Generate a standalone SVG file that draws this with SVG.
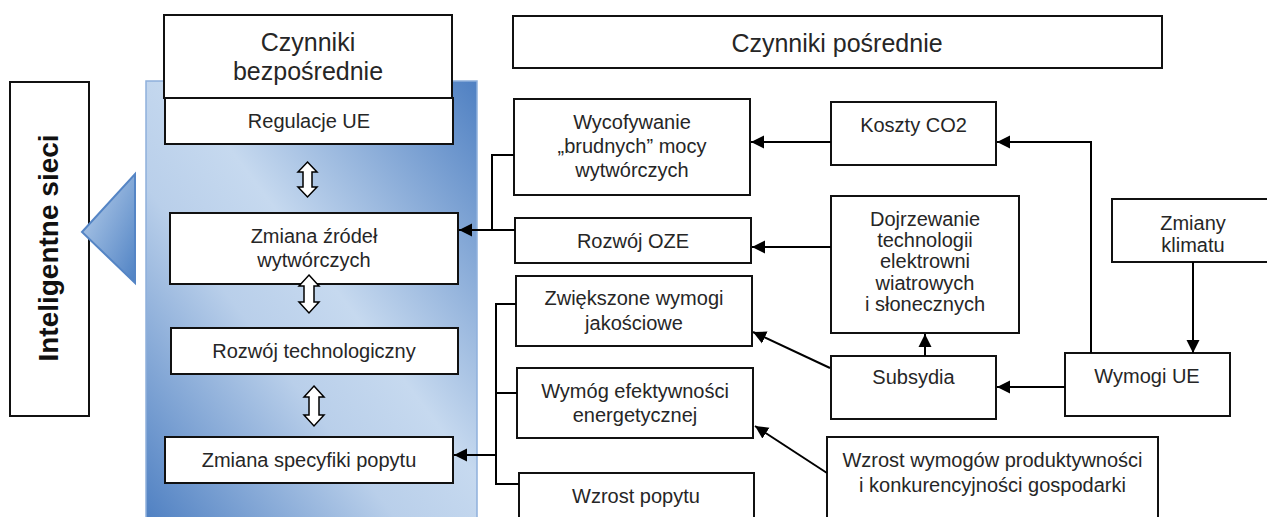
<svg xmlns="http://www.w3.org/2000/svg" width="1267" height="517" viewBox="0 0 1267 517">
  <defs>
    <linearGradient id="panelGrad" x1="1" y1="0" x2="0" y2="1">
      <stop offset="0" stop-color="#4f80c2"/>
      <stop offset="0.45" stop-color="#c6d9ef"/>
      <stop offset="0.62" stop-color="#b9cfea"/>
      <stop offset="1" stop-color="#4f80c2"/>
    </linearGradient>
    <linearGradient id="triGrad" x1="0" y1="0" x2="1" y2="1">
      <stop offset="0" stop-color="#bcd2ec"/>
      <stop offset="1" stop-color="#4f82c4"/>
    </linearGradient>
    <marker id="ah" viewBox="0 0 14 14" refX="14" refY="7" markerWidth="13" markerHeight="14" markerUnits="userSpaceOnUse" orient="auto">
      <path d="M0,0 L14,7 L0,14 z" fill="#000"/>
    </marker>
    <style>
      .box { fill: #fff; stroke: #111; stroke-width: 2; }
      .t { font-family: "Liberation Sans", Arial, sans-serif; font-size: 20px; fill: #262626; text-anchor: middle; }
      .h { font-size: 25px; }
      .b { font-family: "Liberation Sans", Arial, sans-serif; font-size: 28px; font-weight: bold; fill: #111; text-anchor: middle; }
      .c { fill: none; stroke: #000; stroke-width: 2; }
      .ca { fill: none; stroke: #000; stroke-width: 2; marker-end: url(#ah); }
      .dbl { fill: #fff; stroke: #000; stroke-width: 1.5; stroke-linejoin: miter; }
    </style>
  </defs>

  <!-- blue panel -->
  <rect id="panel" x="146" y="81" width="331" height="440" fill="url(#panelGrad)" stroke="#8fb0dc" stroke-width="1.5"/>

  <g id="node-inteligentne">
    <rect class="box" x="10" y="82" width="79" height="334"/>
    <text class="b" transform="translate(58,248) rotate(-90)">Inteligentne sieci</text>
  </g>
  <g id="node-triangle">
    <polygon points="82,232 135,174 135,283" fill="url(#triGrad)" stroke="#5585c5" stroke-width="2"/>
  </g>

  <g id="node-bezposrednie">
    <rect class="box" x="164" y="15" width="288" height="83"/>
    <text class="t h" x="308" y="51">Czynniki</text>
    <text class="t h" x="308" y="80">bezpośrednie</text>
  </g>
  <g id="node-regulacje">
    <rect class="box" x="165" y="98" width="288" height="46"/>
    <text class="t" x="309" y="128">Regulacje UE</text>
  </g>
  <g id="node-zmiana-zrodel">
    <rect class="box" x="170" y="213" width="288" height="71"/>
    <text class="t" x="314" y="243">Zmiana źródeł</text>
    <text class="t" x="314" y="267">wytwórczych</text>
  </g>
  <g id="node-rozwoj-tech">
    <rect class="box" x="171" y="328" width="287" height="46"/>
    <text class="t" x="314" y="358">Rozwój technologiczny</text>
  </g>
  <g id="node-zmiana-popytu">
    <rect class="box" x="165" y="437" width="288" height="46"/>
    <text class="t" x="309" y="467">Zmiana specyfiki popytu</text>
  </g>

  <!-- hollow double arrows -->
  <g id="double-arrows">
    <path class="dbl" d="M307.5,162 L317,172 L312,172 L312,187 L317,187 L307.5,197 L298,187 L303,187 L303,172 L298,172 Z"/>
    <path class="dbl" d="M309,275 L319,286 L314,286 L314,302 L319,302 L309,313 L299,302 L304,302 L304,286 L299,286 Z"/>
    <path class="dbl" d="M314,386 L324,397 L319,397 L319,415 L324,415 L314,426 L304,415 L309,415 L309,397 L304,397 Z"/>
  </g>

  <g id="node-posrednie">
    <rect class="box" x="513" y="16" width="649" height="52"/>
    <text class="t h" x="837" y="52">Czynniki pośrednie</text>
  </g>
  <g id="node-wycofywanie">
    <rect class="box" x="514" y="99" width="236" height="96"/>
    <text class="t" x="632" y="129">Wycofywanie</text>
    <text class="t" x="632" y="153">„brudnych” mocy</text>
    <text class="t" x="632" y="177">wytwórczych</text>
  </g>
  <g id="node-rozwoj-oze">
    <rect class="box" x="515" y="218" width="236" height="45"/>
    <text class="t" x="633" y="248">Rozwój OZE</text>
  </g>
  <g id="node-zwiekszone">
    <rect class="box" x="516" y="276" width="236" height="70"/>
    <text class="t" x="634" y="305">Zwiększone wymogi</text>
    <text class="t" x="634" y="330">jakościowe</text>
  </g>
  <g id="node-wymog-efekt">
    <rect class="box" x="517" y="368" width="236" height="70"/>
    <text class="t" x="635" y="398">Wymóg efektywności</text>
    <text class="t" x="635" y="422">energetycznej</text>
  </g>
  <g id="node-wzrost-popytu">
    <rect class="box" x="519" y="473" width="235" height="60"/>
    <text class="t" x="636" y="503">Wzrost popytu</text>
  </g>
  <g id="node-koszty">
    <rect class="box" x="831" y="102" width="165" height="63"/>
    <text class="t" x="913.5" y="132">Koszty CO2</text>
  </g>
  <g id="node-dojrzewanie">
    <rect class="box" x="831" y="196" width="188" height="137"/>
    <text class="t" x="925" y="226">Dojrzewanie</text>
    <text class="t" x="925" y="247">technologii</text>
    <text class="t" x="925" y="268">elektrowni</text>
    <text class="t" x="925" y="290">wiatrowych</text>
    <text class="t" x="925" y="311">i słonecznych</text>
  </g>
  <g id="node-zmiany-klimatu">
    <rect class="box" x="1112" y="199" width="165" height="63"/>
    <text class="t" x="1193" y="230">Zmiany</text>
    <text class="t" x="1193" y="252">klimatu</text>
  </g>
  <g id="node-wymogi-ue">
    <rect class="box" x="1065" y="353" width="165" height="63"/>
    <text class="t" x="1147" y="383">Wymogi UE</text>
  </g>
  <g id="node-subsydia">
    <rect class="box" x="831" y="356" width="165" height="63"/>
    <text class="t" x="913.5" y="384">Subsydia</text>
  </g>
  <g id="node-wzrost-wymogow">
    <rect class="box" x="827" y="437" width="331" height="100"/>
    <text class="t" x="992.5" y="467">Wzrost wymogów produktywności</text>
    <text class="t" x="992.5" y="492">i konkurencyjności gospodarki</text>
  </g>

  <g id="connectors">
    <line class="ca" x1="831" y1="142" x2="751" y2="142"/>
    <polyline class="ca" points="1091,353 1091,142 997,142"/>
    <line class="ca" x1="831" y1="247" x2="752" y2="247"/>
    <line class="ca" x1="1193" y1="262" x2="1193" y2="353"/>
    <line class="ca" x1="1065" y1="387" x2="997" y2="387"/>
    <line class="ca" x1="925" y1="356" x2="925" y2="334"/>
    <line class="ca" x1="830" y1="368" x2="753" y2="332"/>
    <line class="ca" x1="827" y1="473" x2="755" y2="426"/>
    <polyline class="c" points="514,155 492,155 492,230"/>
    <line class="ca" x1="515" y1="230" x2="459" y2="230"/>
    <polyline class="c" points="516,304 496,304 496,484 519,484"/>
    <line class="c" x1="496" y1="393" x2="517" y2="393"/>
    <line class="ca" x1="496" y1="455" x2="454" y2="455"/>
  </g>
</svg>
